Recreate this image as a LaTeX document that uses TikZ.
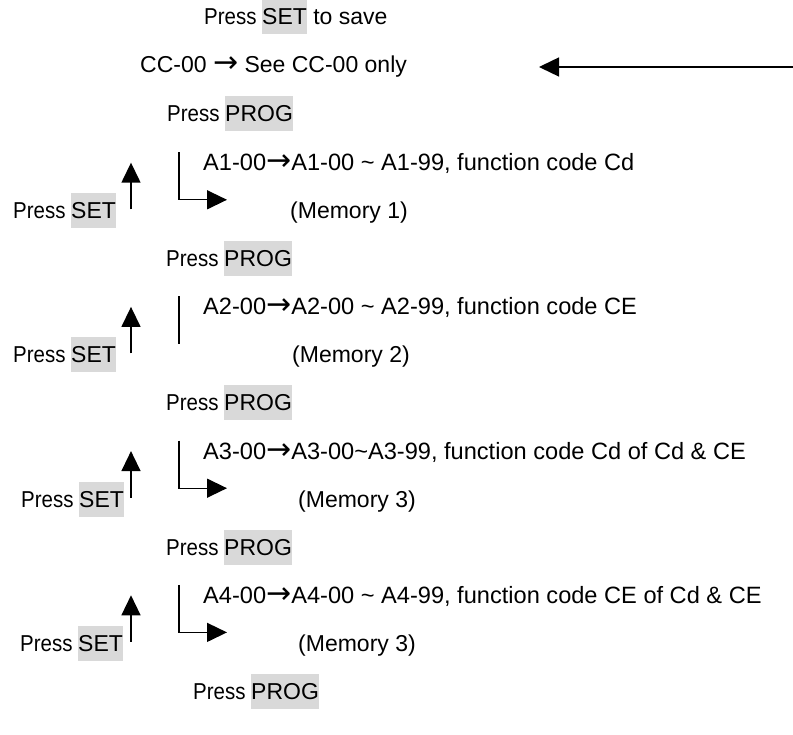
\documentclass[tikz,border=0pt]{standalone}
\usepackage{fontspec}
\setmainfont{Liberation Sans}
\newfontfamily\narrowfont[FakeStretch=0.89]{Liberation Sans}
\newfontfamily\arrfont{DejaVu Sans}
\usetikzlibrary{arrows.meta}
\definecolor{hlgray}{HTML}{D9D9D9}
\newcommand{\hlt}[1]{{\setlength{\fboxsep}{0pt}\colorbox{hlgray}{\rule[-9.5pt]{0pt}{35pt}#1}}}
\newcommand{\prs}{{\narrowfont Press }}
\newcommand{\rarr}{{\fontsize{30}{28}\selectfont\arrfont →}}
\begin{document}
\begin{tikzpicture}[x=1pt,y=-1pt,
  txt/.style={anchor=base west,inner sep=0pt,font=\fontsize{23}{28}\selectfont},
  atxt/.style={anchor=base west,inner sep=0pt,font=\fontsize{23.6}{28}\selectfont},
  arr/.style={line width=1.4pt,-{Triangle[length=20pt,width=19pt]}},
  ln/.style={line width=1.3pt}]
\useasboundingbox (0,0) rectangle (793,735);
% texts
\node[txt] (save) at (204,25) {\prs\hlt{SET} to save};
\node[txt] (cc) at (140,73) {CC-00 \rarr{} See CC-00 only};
\node[txt] (p1) at (167,121.5) {\prs\hlt{PROG}};
\node[atxt] (a1) at (203,170.2) {A1-00\rarr A1-00 \char`\~{} A1-99, function code Cd};
\node[txt] (s1) at (13,218.3) {\prs\hlt{SET}};
\node[txt] (m1) at (290,218.3) {(Memory 1)};
\node[txt] (p2) at (166,266.4) {\prs\hlt{PROG}};
\node[atxt] (a2) at (203,314.4) {A2-00\rarr A2-00 \char`\~{} A2-99, function code CE};
\node[txt] (s2) at (13,362.5) {\prs\hlt{SET}};
\node[txt] (m2) at (292,362.5) {(Memory 2)};
\node[txt] (p3) at (166,410.6) {\prs\hlt{PROG}};
\node[atxt] (a3) at (203,459.6) {A3-00\rarr A3-00\char`\~{}A3-99, function code Cd of Cd \& CE};
\node[txt] (s3) at (21,507.7) {\prs\hlt{SET}};
\node[txt] (m3) at (298,507.7) {(Memory 3)};
\node[txt] (p4) at (166,555.3) {\prs\hlt{PROG}};
\node[atxt] (a4) at (203,603.8) {A4-00\rarr A4-00 \char`\~{} A4-99, function code CE of Cd \& CE};
\node[txt] (s4) at (20,651.9) {\prs\hlt{SET}};
\node[txt] (m4) at (298,651.9) {(Memory 3)};
\node[txt] (p5) at (193,699) {\prs\hlt{PROG}};
% coordinates
\coordinate (tR) at (793,67);
\coordinate (tL) at (539,67);
\coordinate (g1a) at (179,152.2);
\coordinate (g1b) at (227,199.8);
\coordinate (u1b) at (131,209.3);
\coordinate (u1t) at (131,162.7);
\coordinate (g2a) at (179,296.4);
\coordinate (g2b) at (179,344);
\coordinate (u2b) at (131,353.5);
\coordinate (u2t) at (131,306.9);
\coordinate (g3a) at (179,440.6);
\coordinate (g3b) at (227,488.2);
\coordinate (u3b) at (131,497.7);
\coordinate (u3t) at (131,451.1);
\coordinate (g4a) at (179,584.8);
\coordinate (g4b) at (227,632.4);
\coordinate (u4b) at (131,641.9);
\coordinate (u4t) at (131,595.3);
% connectors
\draw[arr] (tR) -- (tL);
\draw[arr] (g1a) |- (g1b);
\draw[arr] (u1b) -- (u1t);
\draw[ln] (g2a) -- (g2b);
\draw[arr] (u2b) -- (u2t);
\draw[arr] (g3a) |- (g3b);
\draw[arr] (u3b) -- (u3t);
\draw[arr] (g4a) |- (g4b);
\draw[arr] (u4b) -- (u4t);
\end{tikzpicture}
\end{document}
